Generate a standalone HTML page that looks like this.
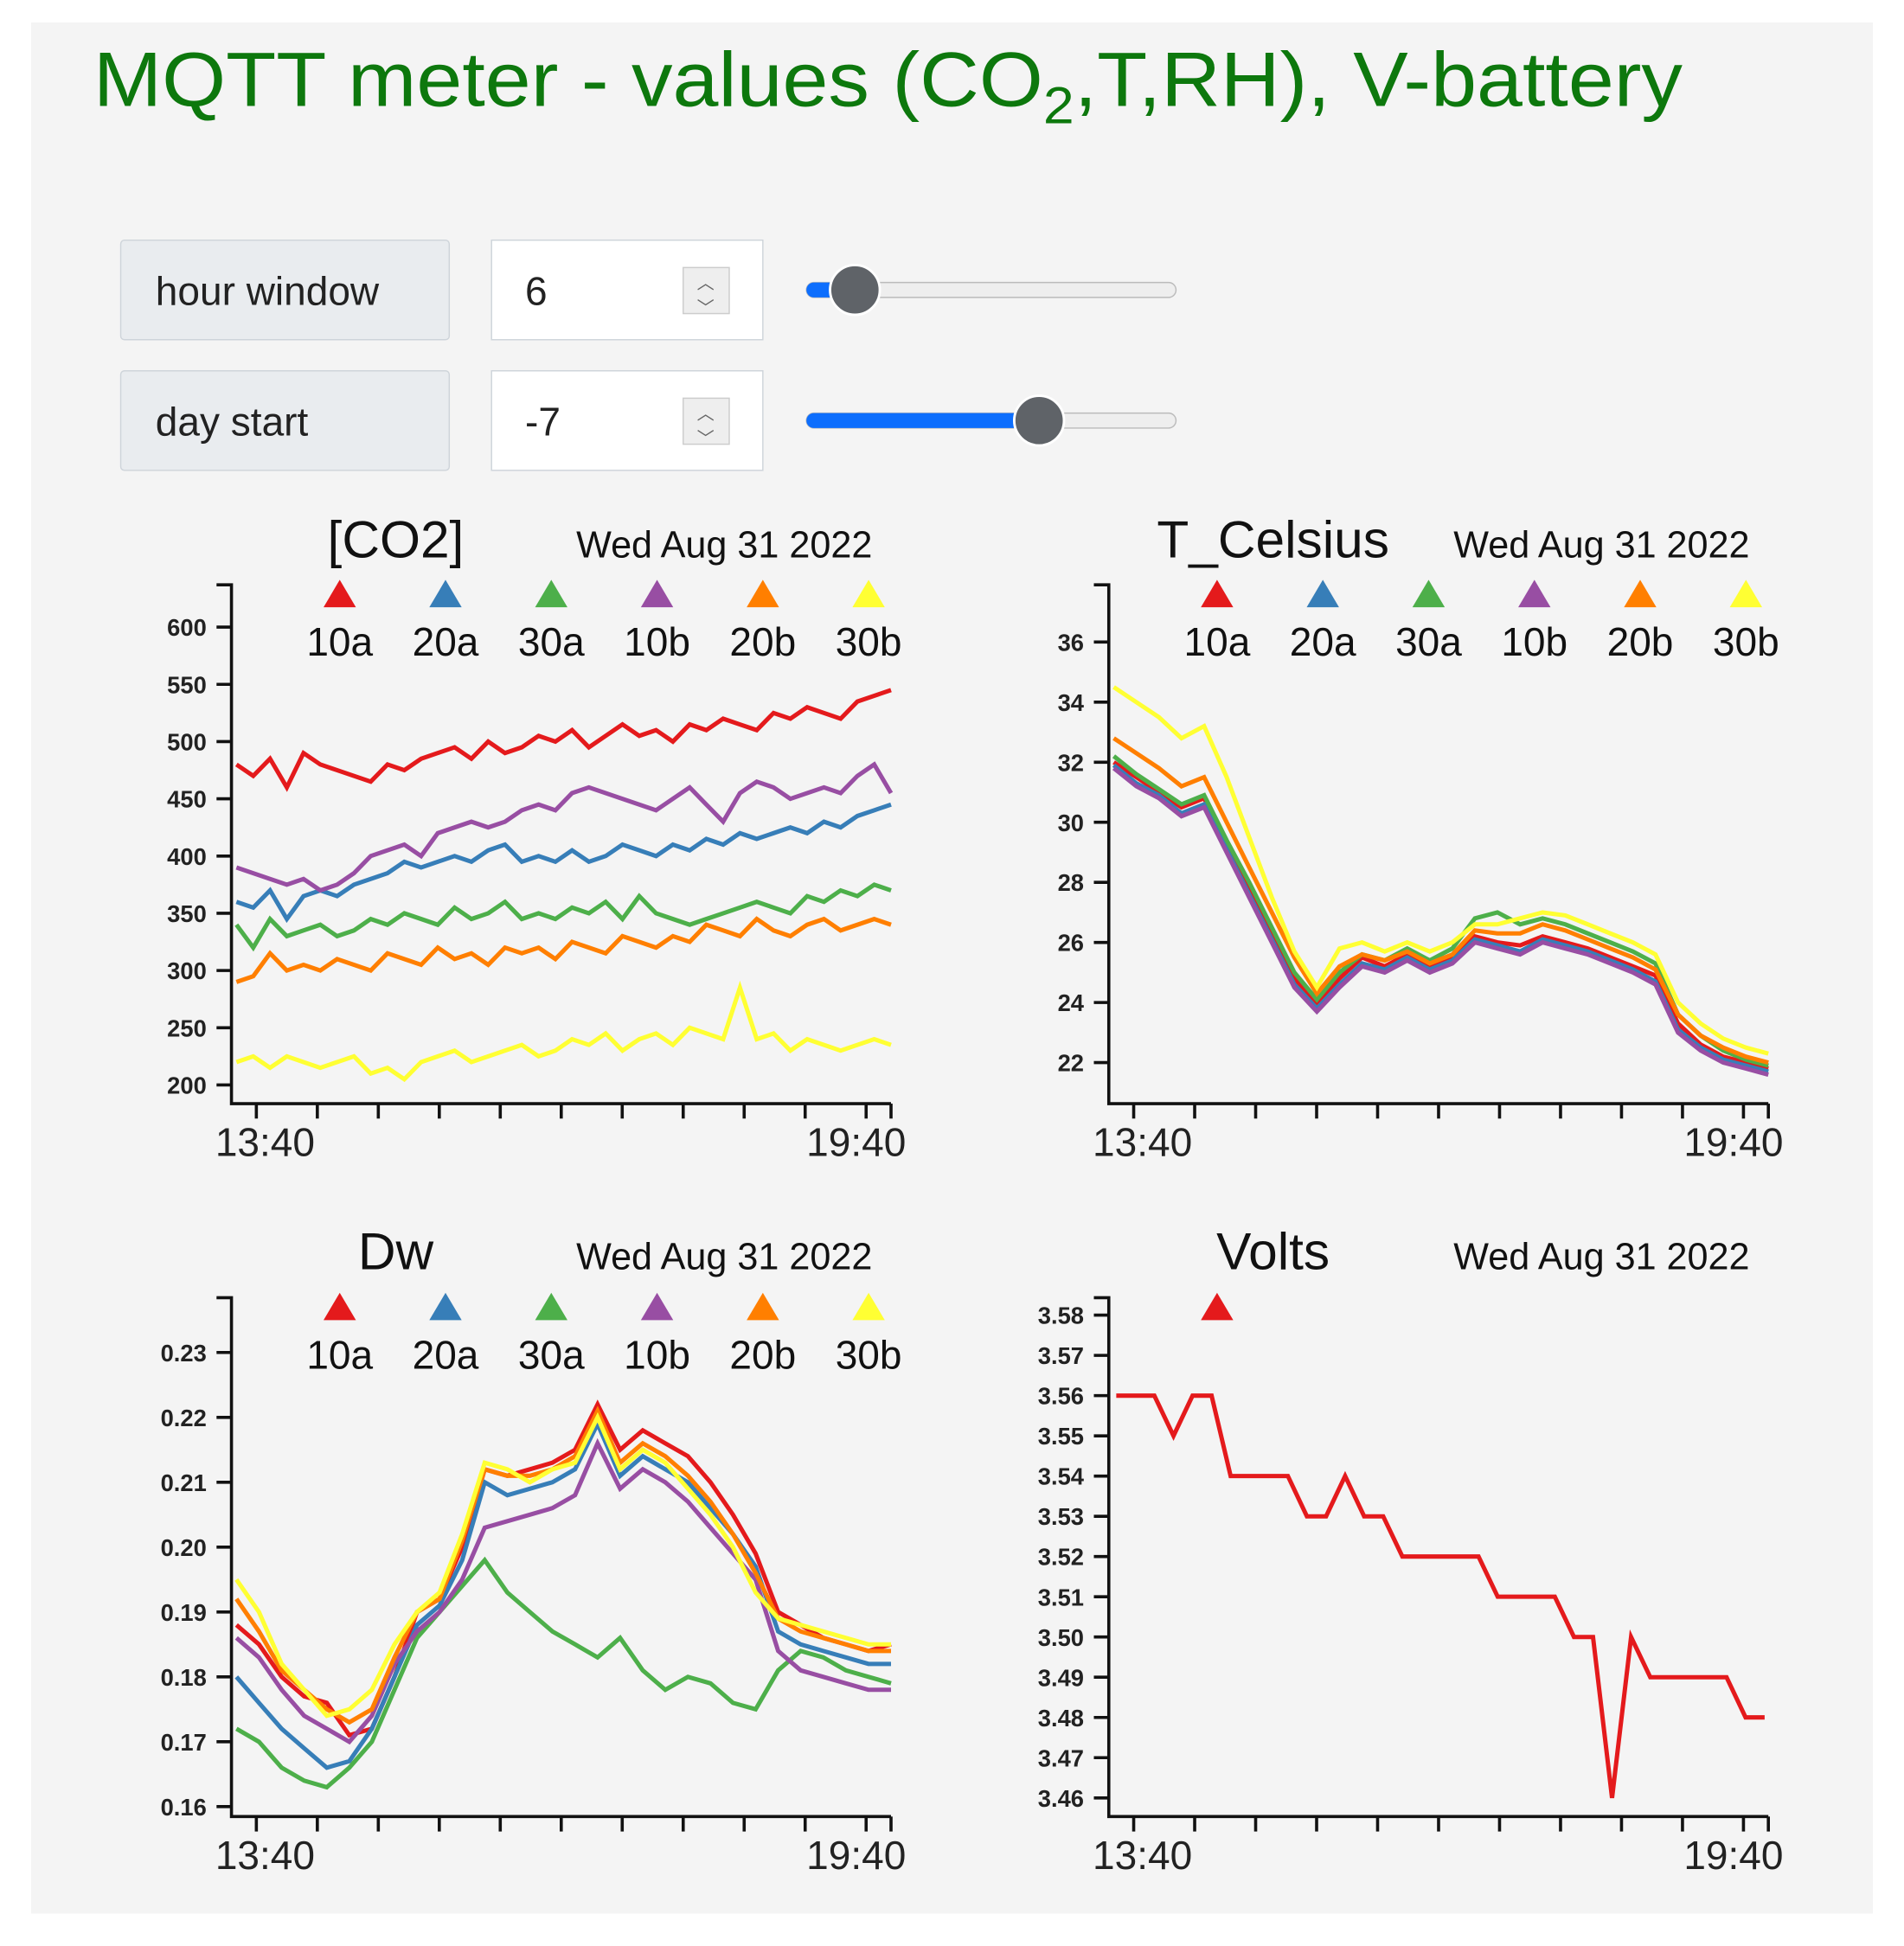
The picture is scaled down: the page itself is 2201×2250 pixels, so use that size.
<!DOCTYPE html>
<html><head><meta charset="utf-8">
<style>
html,body{margin:0;padding:0;background:#fff;}
svg{display:block;font-family:"Liberation Sans",sans-serif;}
</style></head>
<body>
<svg id="root" width="2201" height="2250" viewBox="0 0 1530 1564" xmlns="http://www.w3.org/2000/svg">
<rect x="25" y="18" width="1480" height="1520" fill="#f4f4f4"/>
<text x="75" y="85" font-size="62" fill="#0d780d" transform="translate(75,0) scale(1.067,1) translate(-75,0)">MQTT meter - values (CO<tspan font-size="42" dy="14">2</tspan><tspan dy="-14">,T,RH), V-battery</tspan></text>

<g>
<rect x="97" y="193" width="264" height="80" rx="3" fill="#e9ecef" stroke="#ced4da"/>
<text x="125" y="245" font-size="32" fill="#222">hour window</text>
<rect x="395" y="193" width="218" height="80" fill="#fff" stroke="#ced4da"/>
<text x="422" y="245" font-size="32" fill="#222">6</text>
<rect x="549" y="215" width="37" height="37" fill="#eee" stroke="#ccc"/>
<text x="567" y="232" font-size="14" text-anchor="middle" fill="#666">︿</text>
<text x="567" y="252" font-size="14" text-anchor="middle" fill="#666">﹀</text>
<rect x="648" y="227" width="297" height="12" rx="6" fill="#eee" stroke="#bbb"/>
<rect x="648" y="227" width="39" height="12" rx="6" fill="#0d6efd"/>
<circle cx="687" cy="233" r="20" fill="#5f6368" stroke="#fff" stroke-width="2"/>
</g>
<g>
<rect x="97" y="298" width="264" height="80" rx="3" fill="#e9ecef" stroke="#ced4da"/>
<text x="125" y="350" font-size="32" fill="#222">day start</text>
<rect x="395" y="298" width="218" height="80" fill="#fff" stroke="#ced4da"/>
<text x="422" y="350" font-size="32" fill="#222">-7</text>
<rect x="549" y="320" width="37" height="37" fill="#eee" stroke="#ccc"/>
<text x="567" y="337" font-size="14" text-anchor="middle" fill="#666">︿</text>
<text x="567" y="357" font-size="14" text-anchor="middle" fill="#666">﹀</text>
<rect x="648" y="332" width="297" height="12" rx="6" fill="#eee" stroke="#bbb"/>
<rect x="648" y="332" width="187" height="12" rx="6" fill="#0d6efd"/>
<circle cx="835" cy="338" r="20" fill="#5f6368" stroke="#fff" stroke-width="2"/>
</g>
<g id="charts"></g>
</svg>
<script>
const seriesNames = ["10a","20a","30a","10b","20b","30b"];
const seriesColors = ["#e41a1c","#377eb8","#4daf4a","#984ea3","#ff7f00","#ffff33"];
const timeLabels = ["13:40","19:40"];

const co2Ticks = [200,250,300,350,400,450,500,550,600];
const co2_10a = [480,470,485,460,490,480,475,470,465,480,475,485,490,495,485,500,490,495,505,500,510,495,505,515,505,510,500,515,510,520,515,510,525,520,530,525,520,535,540,545];
const co2_20a = [360,355,370,345,365,370,365,375,380,385,395,390,395,400,395,405,410,395,400,395,405,395,400,410,405,400,410,405,415,410,420,415,420,425,420,430,425,435,440,445];
const co2_30a = [340,320,345,330,335,340,330,335,345,340,350,345,340,355,345,350,360,345,350,345,355,350,360,345,365,350,345,340,345,350,355,360,355,350,365,360,370,365,375,370];
const co2_10b = [390,385,380,375,380,370,375,385,400,405,410,400,420,425,430,425,430,440,445,440,455,460,455,450,445,440,450,460,445,430,455,465,460,450,455,460,455,470,480,455];
const co2_20b = [290,295,315,300,305,300,310,305,300,315,310,305,320,310,315,305,320,315,320,310,325,320,315,330,325,320,330,325,340,335,330,345,335,330,340,345,335,340,345,340];
const co2_30b = [220,225,215,225,220,215,220,225,210,215,205,220,225,230,220,225,230,235,225,230,240,235,245,230,240,245,235,250,245,240,285,240,245,230,240,235,230,235,240,235];

const tTicks = [22,24,26,28,30,32,34,36];
const t_10a = [32,31.5,31,30.5,30.8,29.3,27.8,26.3,24.8,24,24.8,25.5,25.2,25.6,25.2,25.5,26.2,26,25.9,26.2,26,25.8,25.5,25.2,24.9,23.3,22.6,22.2,22,21.8];
const t_20a = [31.9,31.3,30.9,30.3,30.6,29.1,27.6,26.1,24.6,23.8,24.6,25.3,25.1,25.5,25.1,25.4,26.1,25.9,25.7,26.1,25.9,25.7,25.4,25.1,24.7,23.1,22.5,22.1,21.9,21.7];
const t_30a = [32.2,31.6,31.1,30.6,30.9,29.4,28,26.5,25,24.1,25,25.6,25.4,25.8,25.4,25.8,26.8,27,26.6,26.8,26.6,26.3,26,25.7,25.3,23.6,22.9,22.4,22.1,21.9];
const t_10b = [31.8,31.2,30.8,30.2,30.5,29,27.5,26,24.5,23.7,24.5,25.2,25,25.4,25,25.3,26,25.8,25.6,26,25.8,25.6,25.3,25,24.6,23,22.4,22,21.8,21.6];
const t_20b = [32.8,32.3,31.8,31.2,31.5,30,28.5,27,25.5,24.3,25.2,25.6,25.4,25.7,25.3,25.6,26.4,26.3,26.3,26.6,26.4,26.1,25.8,25.5,25.1,23.6,22.9,22.5,22.2,22];
const t_30b = [34.5,34,33.5,32.8,33.2,31.5,29.5,27.5,25.7,24.5,25.8,26,25.7,26,25.7,26,26.6,26.6,26.8,27,26.9,26.6,26.3,26,25.6,24,23.3,22.8,22.5,22.3];

const dwTicks = [0.16,0.17,0.18,0.19,0.20,0.21,0.22,0.23];
const dw_10a = [.188,.185,.180,.177,.176,.171,.172,.180,.190,.192,.200,.212,.211,.212,.213,.215,.222,.215,.218,.216,.214,.210,.205,.199,.190,.188,.186,.185,.184,.185];
const dw_20a = [.180,.176,.172,.169,.166,.167,.172,.180,.188,.191,.198,.210,.208,.209,.210,.212,.219,.211,.214,.212,.210,.206,.202,.197,.187,.185,.184,.183,.182,.182];
const dw_30a = [.172,.170,.166,.164,.163,.166,.170,.178,.186,.190,.194,.198,.193,.190,.187,.185,.183,.186,.181,.178,.180,.179,.176,.175,.181,.184,.183,.181,.180,.179];
const dw_10b = [.186,.183,.178,.174,.172,.170,.174,.182,.187,.190,.195,.203,.204,.205,.206,.208,.216,.209,.212,.210,.207,.203,.199,.195,.184,.181,.180,.179,.178,.178];
const dw_20b = [.192,.187,.181,.178,.175,.173,.175,.183,.190,.192,.201,.212,.211,.211,.212,.214,.221,.213,.216,.214,.211,.207,.202,.196,.189,.187,.186,.185,.184,.184];
const dw_30b = [.195,.190,.182,.178,.174,.175,.178,.185,.190,.193,.202,.213,.212,.210,.212,.213,.220,.212,.215,.213,.209,.205,.200,.193,.189,.188,.187,.186,.185,.185];

const voltTicks = [3.46,3.47,3.48,3.49,3.50,3.51,3.52,3.53,3.54,3.55,3.56,3.57,3.58];
const volts_10a = [3.56,3.56,3.56,3.55,3.56,3.56,3.54,3.54,3.54,3.54,3.53,3.53,3.54,3.53,3.53,3.52,3.52,3.52,3.52,3.52,3.51,3.51,3.51,3.51,3.50,3.50,3.46,3.50,3.49,3.49,3.49,3.49,3.49,3.48,3.48];

const NS = "http://www.w3.org/2000/svg";
const root = document.getElementById("charts");
function mk(tag, attrs, parent){ const e=document.createElementNS(NS,tag); for(const k in attrs) e.setAttribute(k,attrs[k]); (parent||root).appendChild(e); return e; }

function drawChart(cfg){
  const g = mk("g",{});
  
  
  const ax = cfg.ax, top = cfg.top, bot = cfg.bot;
  const y = v => cfg.y0 + (v - cfg.v0) * cfg.k;
  const xs = (i,n) => cfg.xa + i*(cfg.xb - cfg.xa)/(n-1);
  const t = mk("text",{x:cfg.tx,y:cfg.ty,"font-size":42,"text-anchor":"middle",fill:"#111"},g); t.textContent=cfg.title;
  
  
  const d = mk("text",{x:ax+396,y:cfg.ty,"font-size":30,"text-anchor":"middle",fill:"#111"},g); d.textContent="Wed Aug 31 2022";
  
  
  for(let i=0;i<cfg.series.length;i++){
    const lx = ax+87+i*85;
    const tri = mk("path",{d:`M${lx-13},${top+18} L${lx},${top-4} L${lx+13},${top+18} Z`,fill:seriesColors[i]},g);
    
    
    if(cfg.labels){
      const lt = mk("text",{x:lx,y:top+57,"font-size":32,"text-anchor":"middle",fill:"#111"},g); lt.textContent=seriesNames[i];
      
      
    }
  }
  const yl = mk("path",{d:`M${ax-12},${top} H${ax} V${bot} H${ax+530}`,fill:"none",stroke:"#111","stroke-width":2.5},g);
  
  
  for(const v of cfg.ticks){
    const yy=y(v);
    mk("line",{x1:ax-12,x2:ax,y1:yy,y2:yy,stroke:"#111","stroke-width":2.5},g);
    const tl = mk("text",{x:ax-20,y:yy+7,"font-size":19,"font-weight":"bold","text-anchor":"end",fill:"#222"},g);
    tl.textContent = cfg.fmt(v);
    
    
  }
  for(let i=0;i<11;i++){
    const xx = ax+20+i*49;
    mk("line",{x1:xx,x2:xx,y1:bot,y2:bot+12,stroke:"#111","stroke-width":2.5},g);
  }
  mk("line",{x1:ax+530,x2:ax+530,y1:bot,y2:bot+12,stroke:"#111","stroke-width":2.5},g);
  const l1 = mk("text",{x:ax+27,y:bot+42,"font-size":32,"text-anchor":"middle",fill:"#222"},g); l1.textContent=timeLabels[0];
  
  
  const l2 = mk("text",{x:ax+502,y:bot+42,"font-size":32,"text-anchor":"middle",fill:"#222"},g); l2.textContent=timeLabels[1];
  
  
  cfg.series.forEach((s,i)=>{
    const p = s.map((v,j)=>(j?"L":"M")+xs(j,s.length).toFixed(1)+","+y(v).toFixed(1)).join(" ");
    const ln = mk("path",{d:p,fill:"none",stroke:seriesColors[i],"stroke-width":3.5,"stroke-linejoin":"miter"},g);
    
    
  });
}

drawChart({name:"co2-chart",title:"[CO2]",tx:318,ty:448,ax:186,top:470,bot:887,xa:190,xb:716,
  y0:872,v0:200,k:-46/50,ticks:co2Ticks,fmt:v=>String(v),labels:true,
  series:[co2_10a,co2_20a,co2_30a,co2_10b,co2_20b,co2_30b]});
drawChart({name:"temperature-chart",title:"T_Celsius",tx:1023,ty:448,ax:891,top:470,bot:887,xa:895,xb:1421,
  y0:854,v0:22,k:-(854-516)/14,ticks:tTicks,fmt:v=>String(v),labels:true,
  series:[t_10a,t_20a,t_30a,t_10b,t_20b,t_30b]});
drawChart({name:"dw-chart",title:"Dw",tx:318,ty:1020,ax:186,top:1043,bot:1460,xa:190,xb:716,
  y0:1452,v0:0.16,k:-(1452-1087)/0.07,ticks:dwTicks,fmt:v=>v.toFixed(2),labels:true,
  series:[dw_10a,dw_20a,dw_30a,dw_10b,dw_20b,dw_30b]});
drawChart({name:"volts-chart",title:"Volts",tx:1023,ty:1020,ax:891,top:1043,bot:1460,xa:897,xb:1418,
  y0:1445,v0:3.46,k:-(1445-1057)/0.12,ticks:voltTicks,fmt:v=>v.toFixed(2),labels:false,
  series:[volts_10a]});
</script>
</body></html>
